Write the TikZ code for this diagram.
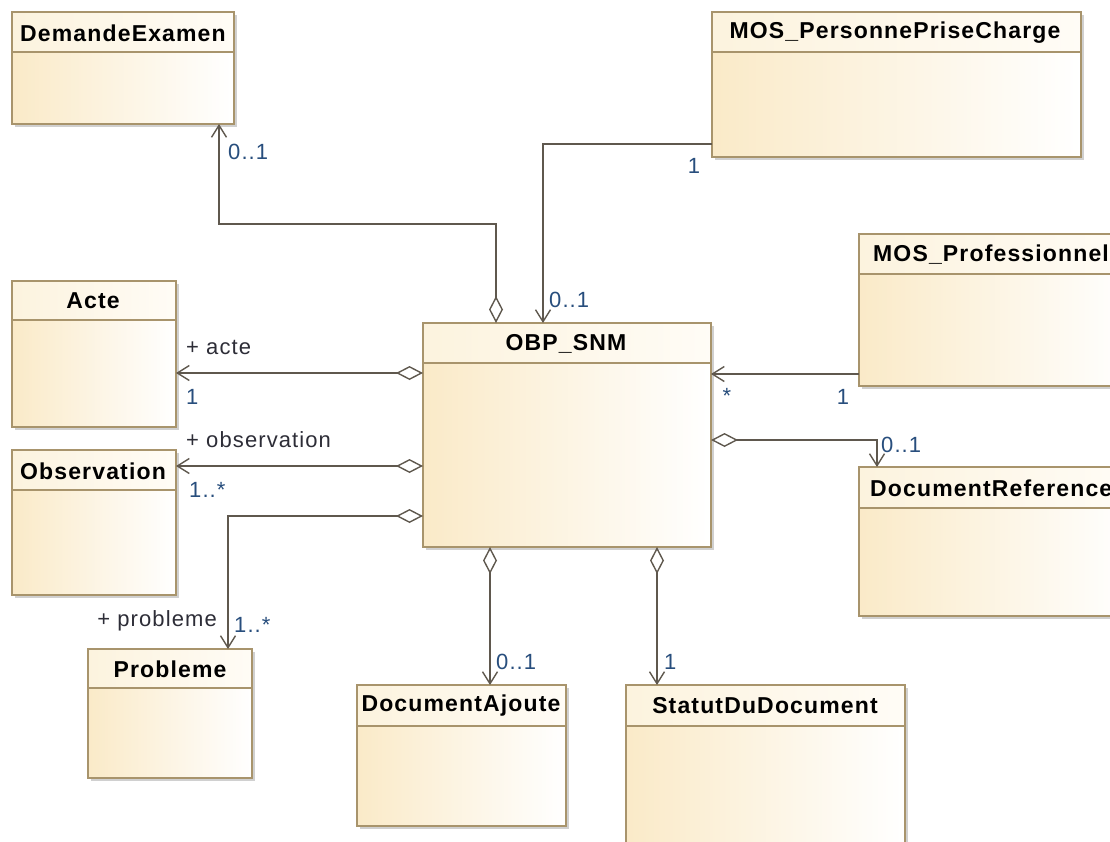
\documentclass[tikz,border=0pt]{standalone}
\usepackage{fontspec}
\setmainfont{Liberation Sans}
\newfontfamily\lblfont{Liberation Sans}[LetterSpace=5.0]
\newfontfamily\ttlfont{Liberation Sans}[LetterSpace=5.0]
\usetikzlibrary{arrows.meta}
\definecolor{bordc}{RGB}{168,148,108}
\definecolor{linec}{RGB}{95,88,78}
\definecolor{bodyL}{RGB}{250,234,200}
\definecolor{hdrL}{RGB}{252,243,222}
\definecolor{hdrR}{RGB}{255,252,246}
\definecolor{shadc}{RGB}{208,208,208}
\definecolor{multc}{RGB}{40,78,125}
\definecolor{rolec}{RGB}{45,45,55}
\tikzset{
  classbox/.style={draw=bordc, line width=1.6pt, anchor=north west, inner sep=0pt, outer sep=0pt},
  classtitle/.style={inner sep=0pt, font=\ttlfont\fontsize{23}{27}\selectfont\bfseries, text=black},
  multlbl/.style={inner sep=0pt, font=\lblfont\fontsize{22}{26}\selectfont, text=multc},
  rolelbl/.style={inner sep=0pt, font=\lblfont\fontsize{22}{26}\selectfont, text=rolec},
  assoc/.style={draw=linec, line width=1.4pt, -{Straight Barb[length=12pt,width=15pt]}},
  aggr/.style={draw=linec, line width=1.4pt, {Diamond[length=27pt,width=14pt,fill=white]}-{Straight Barb[length=12pt,width=15pt]}},
}
% name, x1, y1, x2, y2, divider y
\newcommand\umlbox[6]{%
  \fill[shadc] (#2+3,#3+3) rectangle (#4+3,#5+3);
  \shade[left color=bodyL, right color=white] (#2,#3) rectangle (#4,#5);
  \shade[left color=hdrL, right color=hdrR] (#2,#3) rectangle (#4,#6);
  \draw[bordc, line width=1.6pt] (#2,#6) -- (#4,#6);
  \node[classbox, minimum width={#4-#2}, minimum height={#5-#3}] (#1) at (#2,#3) {};
}
\begin{document}
\begin{tikzpicture}[x=1pt, y=-1pt]
\useasboundingbox (0,0) rectangle (1110,841);
\clip (0,0) rectangle (1110,841);
\fill[white] (0,0) rectangle (1110,841);

\umlbox{DE}{12}{12}{234}{124}{52}
\node[classtitle] (DEt) at (123,33) {DemandeExamen};
\umlbox{MOSP}{712}{12}{1081}{157}{52}
\node[classtitle] (MOSPt) at (895,33) {MOS\_PersonnePriseCharge};
\umlbox{MOSPro}{859}{234}{1130}{386}{274}
\node[classtitle, anchor=west] (MOSProt) at (873,255) {MOS\_Professionnel};
\umlbox{Acte}{12}{281}{176}{427}{320}
\node[classtitle] (Actet) at (93,301) {Acte};
\umlbox{Obs}{12}{450}{176}{595}{490}
\node[classtitle] (Obst) at (93,471) {Observation};
\umlbox{OBP}{423}{323}{711}{547}{363}
\node[classtitle] (OBPt) at (566,344) {OBP\_SNM};
\umlbox{DocRef}{859}{467}{1130}{616}{508}
\node[classtitle, anchor=west] (DocReft) at (870,488) {DocumentReference};
\umlbox{Prob}{88}{649}{252}{778}{688}
\node[classtitle] (Probt) at (170,669) {Probleme};
\umlbox{DocAj}{357}{685}{566}{826}{726}
\node[classtitle] (DocAjt) at (461,706) {DocumentAjoute};
\umlbox{Statut}{626}{685}{905}{870}{726}
\node[classtitle] (Statutt) at (765,706) {StatutDuDocument};

% connectors
\draw[aggr] (OBP.north -| 496,0) -- (496,224) -- (219,224) -- (DE.south -| 219,0);
\draw[assoc] (MOSP.west |- 0,144) -- (543,144) -- (OBP.north -| 543,0);
\draw[aggr] (OBP.west |- 0,373) -- (Acte.east |- 0,373);
\draw[aggr] (OBP.west |- 0,466) -- (Obs.east |- 0,466);
\draw[aggr] (OBP.west |- 0,516) -- (228,516) -- (Prob.north -| 228,0);
\draw[assoc] (MOSPro.west |- 0,374) -- (OBP.east |- 0,374);
\draw[aggr] (OBP.east |- 0,440) -- (877,440) -- (DocRef.north -| 877,0);
\draw[aggr] (OBP.south -| 490,0) -- (DocAj.north -| 490,0);
\draw[aggr] (OBP.south -| 657,0) -- (Statut.north -| 657,0);

% labels
\node[multlbl, anchor=west] (m1) at (228,152) {0..1};
\node[multlbl] (m2) at (694,166) {1};
\node[multlbl, anchor=west] (m3) at (549,300) {0..1};
\node[rolelbl, anchor=west] (r1) at (186,347) {+ acte};
\node[multlbl, anchor=west] (m4) at (186,397) {1};
\node[rolelbl, anchor=west] (r2) at (186,440) {+ observation};
\node[multlbl, anchor=west] (m5) at (189,490) {1..*};
\node[rolelbl, anchor=east] (r3) at (217,621) {+ probleme};
\node[multlbl, anchor=west] (m6) at (234,625) {1..*};
\node[multlbl] (m7) at (727,396) {*};
\node[multlbl] (m8) at (843,397) {1};
\node[multlbl, anchor=west] (m9) at (881,445) {0..1};
\node[multlbl, anchor=west] (m10) at (496,662) {0..1};
\node[multlbl, anchor=west] (m11) at (664,662) {1};
\end{tikzpicture}
\end{document}
